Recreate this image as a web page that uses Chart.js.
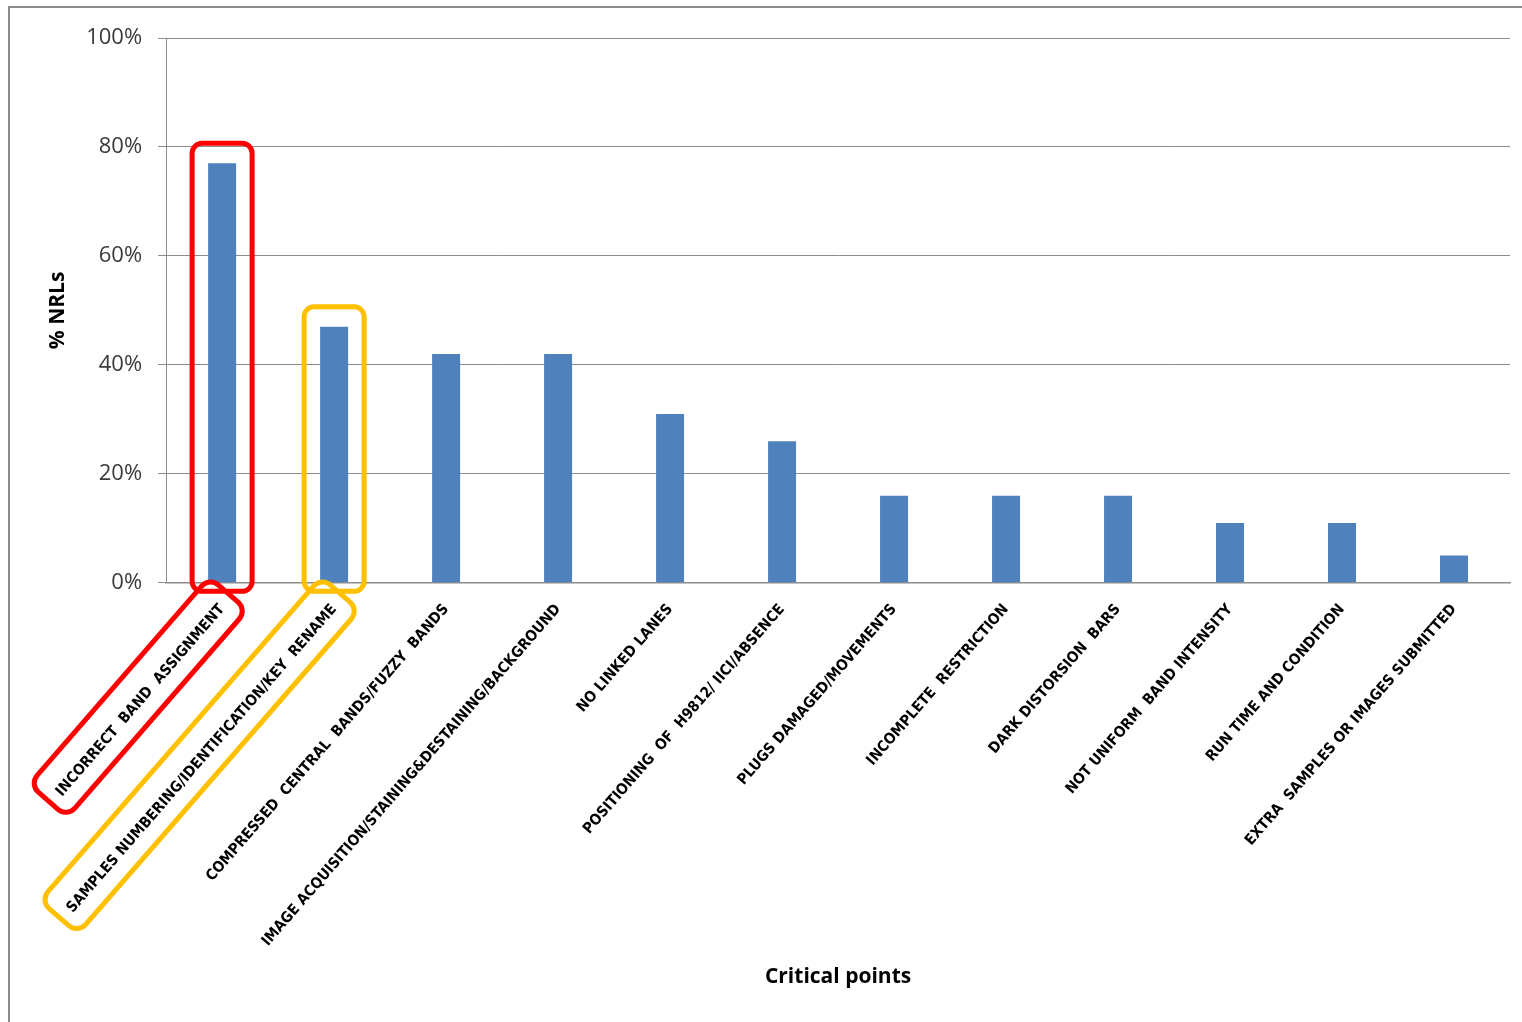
<!DOCTYPE html>
<html>
<head>
<meta charset="utf-8">
<script src="https://cdn.jsdelivr.net/npm/chart.js@4"></script>
<style>
  html, body { margin: 0; padding: 0; background: #fff; overflow: hidden; }
  #marco { position: absolute; left: 8px; top: 6px; width: 1540px; height: 1040px; border-left: 2px solid #8c8c8c; border-top: 2px solid #8c8c8c; }
  #caja { position: absolute; left: 0; top: 0; width: 1522px; height: 1022px; }
</style>
</head>
<body>
<div id="marco"></div>
<div id="caja"><canvas id="myChart"></canvas></div>
<script>
const puntos = [
  "INCORRECT  BAND  ASSIGNMENT",
  "SAMPLES NUMBERING/IDENTIFICATION/KEY  RENAME",
  "COMPRESSED  CENTRAL  BANDS/FUZZY  BANDS",
  "IMAGE ACQUISITION/STAINING&DESTAINING/BACKGROUND",
  "NO LINKED LANES",
  "POSITIONING  OF  H9812/ IICI/ABSENCE",
  "PLUGS DAMAGED/MOVEMENTS",
  "INCOMPLETE  RESTRICTION",
  "DARK DISTORSION  BARS",
  "NOT UNIFORM  BAND INTENSITY",
  "RUN TIME AND CONDITION",
  "EXTRA  SAMPLES OR IMAGES SUBMITTED"
];
const porcentajes = [77, 47, 42, 42, 31, 26, 16, 16, 16, 11, 11, 5];
const marcasY = ["0%", "20%", "40%", "60%", "80%", "100%"];

// barras resaltadas con su color de marco
const destacados = [0, 1];
const coloresMarco = ["#ff0000", "#ffc000"];

const marcos = {
  id: "marcos",
  afterDraw(chart) {
    const ctx = chart.ctx;
    const meta = chart.getDatasetMeta(0);
    const items = chart.scales.x.getLabelItems();
    ctx.save();
    ctx.lineWidth = 5;
    destacados.forEach((idx, k) => {
      ctx.strokeStyle = coloresMarco[k];
      const bar = meta.data[idx];
      const w = bar.width;
      ctx.beginPath();
      ctx.roundRect(bar.x - w / 2 - 16, bar.y - 20, w + 32, bar.base - bar.y + 29, 10);
      ctx.stroke();

      const it = items[idx];
      ctx.save();
      ctx.translate(it.options.translation[0], it.options.translation[1]);
      ctx.rotate(it.options.rotation);
      ctx.font = it.font.string;
      const tw = ctx.measureText(it.label).width;
      ctx.beginPath();
      ctx.roundRect(-tw - 12, it.textOffset - 29, tw + 26, 50, 12);
      ctx.stroke();
      ctx.restore();
    });
    ctx.restore();
  }
};

const ctx = document.getElementById("myChart");

new Chart(ctx, {
  type: "bar",
  data: {
    labels: puntos,
    datasets: [{
      data: porcentajes,
      backgroundColor: "#4f81bd",
      barPercentage: 0.25,
      categoryPercentage: 1
    }]
  },
  options: {
    responsive: true,
    maintainAspectRatio: false,
    animation: false,
    layout: { padding: { left: 45, right: 12, top: 38, bottom: 32 } },
    plugins: {
      legend: { display: false },
      tooltip: { enabled: false }
    },
    scales: {
      x: {
        grid: { display: false },
        border: { color: "#8c8c8c", width: 1.5 },
        ticks: {
          autoSkip: false,
          minRotation: 49,
          maxRotation: 49,
          padding: 10,
          color: "#000",
          font: { family: "'Liberation Sans Narrow', 'DejaVu Sans Condensed', 'Liberation Sans'", size: 15, weight: "bold" }
        },
        title: {
          display: true,
          text: "Critical points",
          color: "#000",
          font: { family: "'Open Sans'", size: 21, weight: "bold" },
          padding: { top: 5, bottom: 0 }
        }
      },
      y: {
        min: 0,
        max: 100,
        grid: { color: "#8c8c8c", tickLength: 8 },
        border: { color: "#8c8c8c" },
        ticks: {
          stepSize: 20,
          padding: 16,
          color: "#3a3a3a",
          font: { family: "'Open Sans'", size: 22 },
          callback: (v) => marcasY[v / 20]
        },
        title: {
          display: true,
          text: "% NRLs",
          color: "#000",
          font: { family: "'Open Sans'", size: 21, weight: "bold" },
          padding: { top: 0, bottom: 0 }
        }
      }
    }
  },
  plugins: [marcos]
});
</script>
</body>
</html>
